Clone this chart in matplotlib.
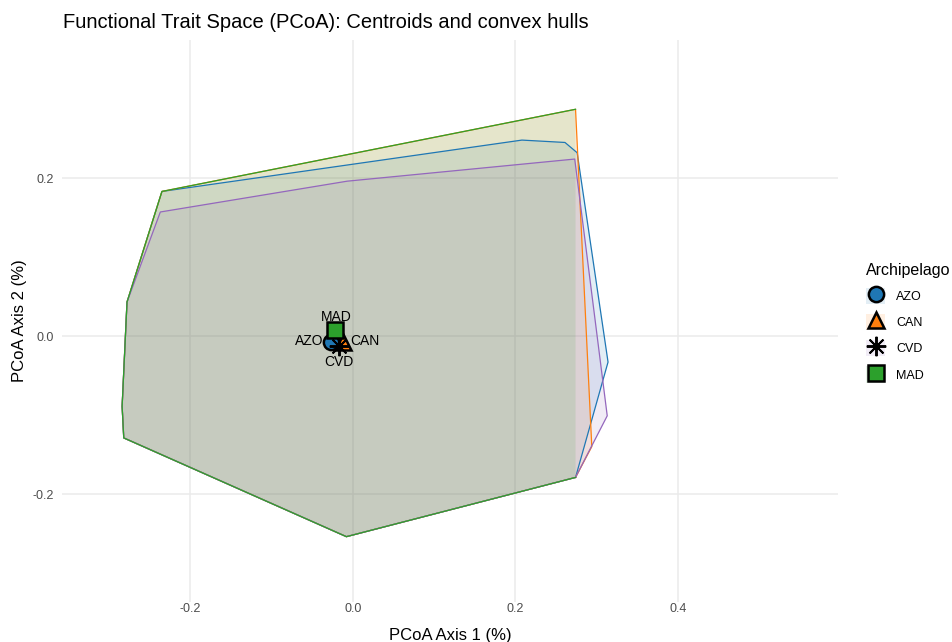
import matplotlib.pyplot as plt
from matplotlib.patches import Patch
from matplotlib.lines import Line2D
from matplotlib.legend_handler import HandlerTuple

plt.rcParams['font.family'] = ['Liberation Sans', 'DejaVu Sans']

# ---- data: convex hull vertices per archipelago (PCoA axes 1 and 2) ----
groups = ['AZO', 'CAN', 'CVD', 'MAD']
colors = ['#1F77B4', '#FF7F0E', '#9467BD', '#2CA02C']

# vertices listed starting from the lower-right corner, going round
hull_x = {
    'AZO': [0.274, -0.008, -0.282, -0.284, -0.278, -0.235, 0.208, 0.261, 0.276, 0.314],
    'CAN': [0.274, -0.008, -0.282, -0.284, -0.278, -0.235, 0.274, 0.294],
    'CVD': [0.274, -0.008, -0.282, -0.284, -0.278, -0.237, -0.007, 0.273, 0.313],
    'MAD': [0.274, -0.008, -0.282, -0.284, -0.278, -0.235, 0.274],
}
hull_y = {
    'AZO': [-0.179, -0.254, -0.129, -0.089, 0.043, 0.183, 0.248, 0.245, 0.232, -0.033],
    'CAN': [-0.179, -0.254, -0.129, -0.089, 0.043, 0.183, 0.287, -0.140],
    'CVD': [-0.179, -0.254, -0.129, -0.089, 0.043, 0.157, 0.196, 0.224, -0.101],
    'MAD': [-0.179, -0.254, -0.129, -0.089, 0.043, 0.183, 0.287],
}
# the MAD right edge sits under the others in the original, so its outline stays open
closed = {'AZO': True, 'CAN': True, 'CVD': True, 'MAD': False}

# centroids
cent_x = [-0.027, -0.012, -0.017, -0.022]
cent_y = [-0.008, -0.008, -0.013, 0.008]
markers = ['o', '^', (8, 2, 0), 's']
label_offsets = [(-16, 1), (16, 1), (0, -11), (1, 9)]   # points, for the centroid text


def marker_style(c, m):
    if m == (8, 2, 0):
        return dict(marker=m, ms=14, color='black', mew=1.4, ls='none')
    return dict(marker=m, ms=12 if m == '^' else 11, markerfacecolor=c,
                markeredgecolor='black', mew=1.8, ls='none')


fig = plt.figure(figsize=(9.52, 6.42), dpi=100)
ax = fig.add_axes([62/952, 1 - 602/642, (838 - 62)/952, (602 - 40)/642])

for g, c in zip(groups, colors):
    ax.fill(hull_x[g], hull_y[g], facecolor=c, alpha=0.12, edgecolor='none', zorder=2)
    xs, ys = list(hull_x[g]), list(hull_y[g])
    if closed[g]:
        xs.append(xs[0])
        ys.append(ys[0])
    ax.plot(xs, ys, color=c, lw=0.9, zorder=3)

for g, c, m, x, y, off in zip(groups, colors, markers, cent_x, cent_y, label_offsets):
    ax.annotate(g, (x, y), xytext=off, textcoords='offset points',
                ha='center', va='center', fontsize=10, color='black', zorder=4)
    ax.plot(x, y, zorder=5, **marker_style(c, m))

ax.set_xlim(-0.358, 0.597)
ax.set_ylim(-0.3367, 0.3747)
ax.set_xticks([-0.2, 0.0, 0.2, 0.4])
ax.set_yticks([-0.2, 0.0, 0.2])
ax.set_xticklabels(['-0.2', '0.0', '0.2', '0.4'])
ax.set_yticklabels(['-0.2', '0.0', '0.2'])
ax.grid(True, color='#EBEBEB', lw=1.1, zorder=0)
ax.set_axisbelow(True)
for s in ax.spines.values():
    s.set_visible(False)
ax.tick_params(length=0, labelsize=9, labelcolor='#4D4D4D')
ax.tick_params(axis='x', pad=0.5)
ax.tick_params(axis='y', pad=6)
ax.set_xlabel('PCoA Axis 1 (%)', fontsize=12, labelpad=9.5)
ax.set_ylabel('PCoA Axis 2 (%)', fontsize=12, labelpad=4)
fig.text(63/952, 1 - 22/642, 'Functional Trait Space (PCoA): Centroids and convex hulls',
         fontsize=14.5, ha='left', va='center')

# legend: light hull fill behind the centroid marker
handles = []
for c, m in zip(colors, markers):
    bg = Patch(facecolor=c, alpha=0.12, edgecolor='none')
    handles.append((bg, Line2D([], [], **marker_style(c, m))))
fig.legend(handles, groups, title='Archipelago', loc='upper left',
           bbox_to_anchor=(855/952, 1 - 252/642), frameon=False, fontsize=9,
           title_fontsize=11.5, handler_map={tuple: HandlerTuple(ndivide=1, pad=0)},
           handlelength=1.5, handleheight=1.6, labelspacing=0.8, handletextpad=0.9,
           alignment='left')

plt.savefig('out.png', dpi=100)
